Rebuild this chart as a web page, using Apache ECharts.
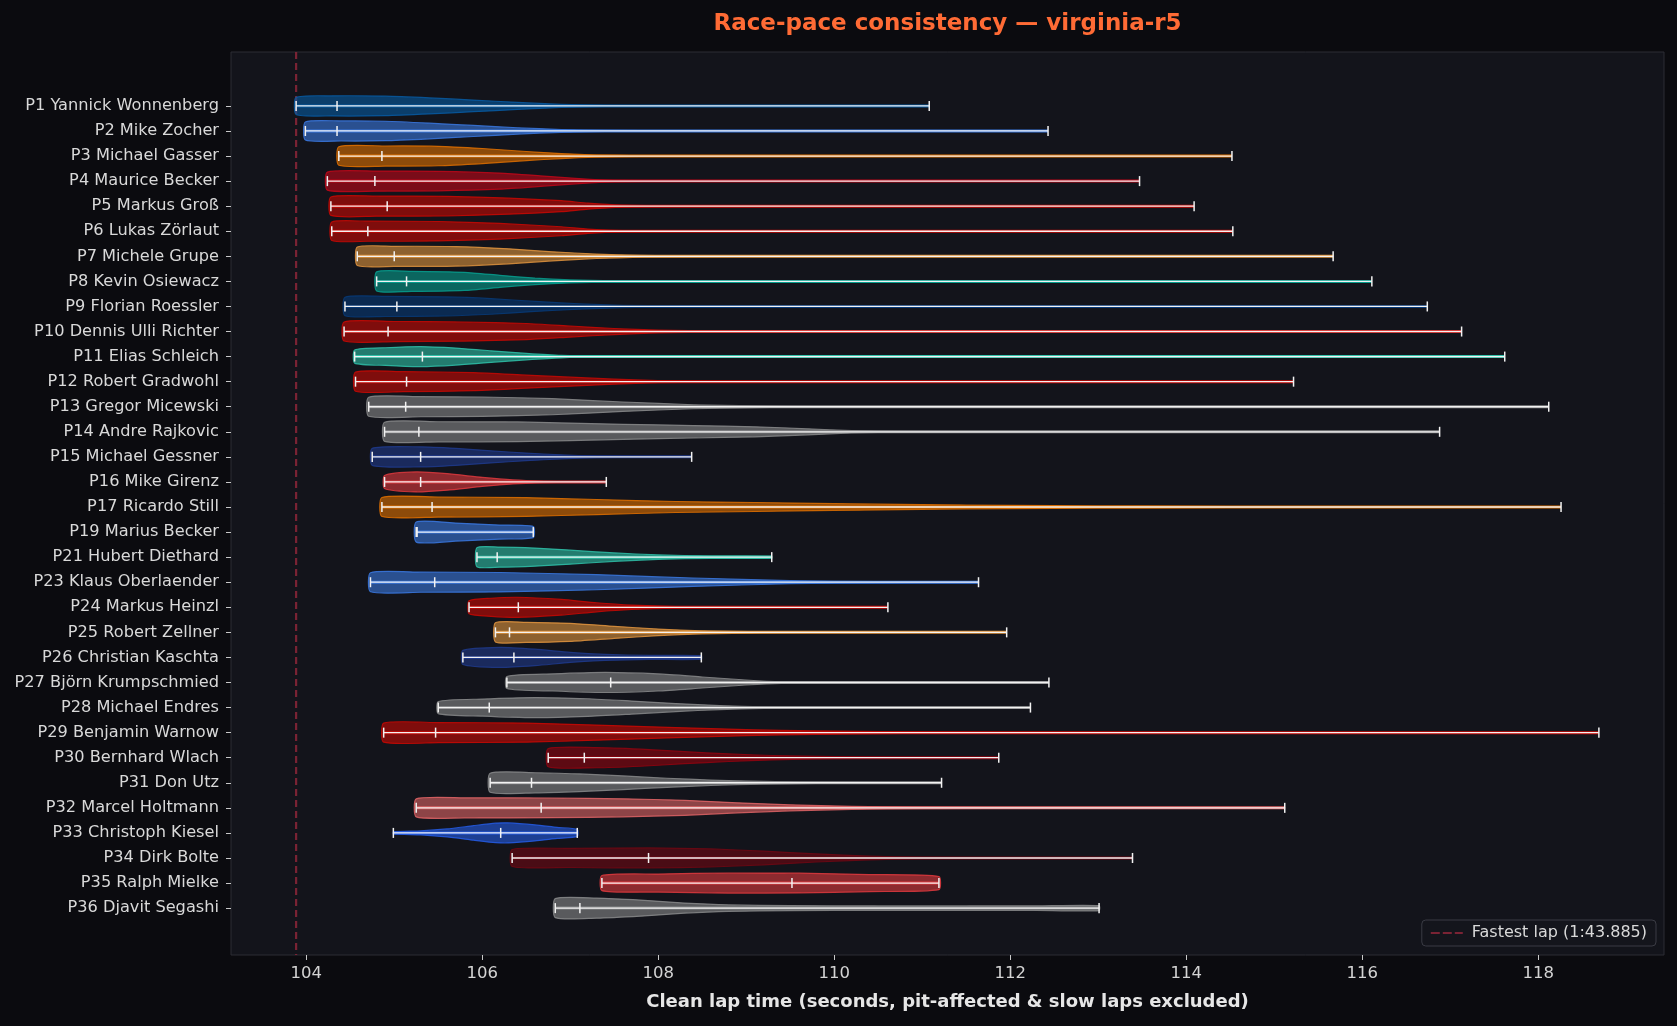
<!DOCTYPE html>
<html>
<head>
<meta charset="utf-8">
<script src="https://cdn.jsdelivr.net/npm/echarts@6/dist/echarts.min.js"></script>
<style>
  html, body { margin: 0; padding: 0; background: #0b0b0f; }
  #chart { width: 1677px; height: 1026px; }
</style>
</head>
<body>
<div id="chart"></div>
<script>
// values
const drivers = [
  "P1 Yannick Wonnenberg", "P2 Mike Zocher", "P3 Michael Gasser", "P4 Maurice Becker",
  "P5 Markus Groß", "P6 Lukas Zörlaut", "P7 Michele Grupe", "P8 Kevin Osiewacz",
  "P9 Florian Roessler", "P10 Dennis Ulli Richter", "P11 Elias Schleich", "P12 Robert Gradwohl",
  "P13 Gregor Micewski", "P14 Andre Rajkovic", "P15 Michael Gessner", "P16 Mike Girenz",
  "P17 Ricardo Still", "P19 Marius Becker", "P21 Hubert Diethard", "P23 Klaus Oberlaender",
  "P24 Markus Heinzl", "P25 Robert Zellner", "P26 Christian Kaschta", "P27 Björn Krumpschmied",
  "P28 Michael Endres", "P29 Benjamin Warnow", "P30 Bernhard Wlach", "P31 Don Utz",
  "P32 Marcel Holtmann", "P33 Christoph Kiesel", "P34 Dirk Bolte", "P35 Ralph Mielke",
  "P36 Djavit Segashi"
];

const mins = [
  103.885, 103.99, 104.37, 104.24, 104.28, 104.29, 104.58, 104.80, 104.44, 104.43, 104.55,
  104.56, 104.71, 104.89, 104.75, 104.89, 104.86, 105.25, 105.94, 104.73, 105.85, 106.15,
  105.78, 106.28, 105.50, 104.88, 106.75, 106.09, 105.25, 104.99, 106.34, 107.36, 106.83
];

const medians = [
  104.35, 104.35, 104.86, 104.78, 104.92, 104.70, 105.00, 105.14, 105.03, 104.93, 105.32,
  105.14, 105.13, 105.28, 105.30, 105.30, 105.43, 105.26, 106.17, 105.46, 106.41, 106.31,
  106.36, 107.46, 106.08, 105.47, 107.16, 106.56, 106.67, 106.21, 107.89, 109.52, 107.11
];

const maxes = [
  111.08, 112.43, 114.52, 113.47, 114.09, 114.53, 115.67, 116.11, 116.74, 117.13, 117.62,
  115.22, 118.12, 116.88, 108.38, 107.41, 118.26, 106.58, 109.29, 111.64, 110.61, 111.96,
  108.49, 112.44, 112.23, 118.69, 111.87, 111.22, 115.12, 107.08, 113.39, 111.19, 113.01
];

const colors = [
  "#075aa2", "#3a78e0", "#e07000", "#bf0719", "#c80804", "#c80804", "#e0943e", "#079d8e",
  "#073977", "#c80804", "#2fc1a9", "#c80804", "#88898b", "#88898b", "#1f398b", "#e0393e",
  "#e07000", "#3a78e0", "#2fc1a9", "#3a78e0", "#c80804", "#e0943e", "#1f398b", "#88898b",
  "#88898b", "#c80804", "#90030f", "#88898b", "#e06466", "#255ce5", "#6f0713", "#e0393e",
  "#88898b"
];

// violin outline: [lap time, relative half-width]
const profiles = [
  [[103.885,0.85],[104.3,1.0],[104.9,0.97],[105.4,0.8],[105.9,0.58],[106.4,0.35],[106.9,0.15],[107.4,0.05],[108.2,0.01],[111.08,0]],
  [[103.99,0.9],[104.4,1.0],[104.9,0.97],[105.4,0.78],[105.9,0.55],[106.4,0.32],[106.9,0.14],[107.4,0.05],[108.2,0.01],[112.43,0]],
  [[104.37,0.92],[104.9,1.0],[105.5,0.97],[106.0,0.75],[106.5,0.45],[106.9,0.25],[107.3,0.1],[107.8,0.03],[109,0.01],[114.52,0]],
  [[104.24,0.9],[104.8,1.0],[105.5,0.97],[106.2,0.8],[106.7,0.5],[107.1,0.25],[107.5,0.08],[108.2,0.02],[113.47,0]],
  [[104.28,0.92],[104.8,1.0],[105.6,0.98],[106.3,0.8],[106.9,0.55],[107.2,0.3],[107.6,0.1],[108.2,0.03],[114.09,0]],
  [[104.29,0.92],[104.7,1.0],[105.5,0.97],[106.2,0.78],[106.9,0.45],[107.2,0.22],[107.6,0.07],[108.3,0.02],[114.53,0]],
  [[104.58,0.92],[105.0,1.0],[105.7,0.97],[106.3,0.75],[106.8,0.45],[107.3,0.22],[107.8,0.09],[108.5,0.03],[109.5,0.01],[115.67,0]],
  [[104.8,0.95],[105.2,1.0],[105.8,0.9],[106.2,0.6],[106.6,0.32],[107.0,0.15],[107.5,0.06],[108.2,0.02],[110,0.005],[116.11,0]],
  [[104.44,0.92],[104.9,1.0],[105.6,0.95],[106.1,0.78],[106.6,0.5],[107.1,0.27],[107.6,0.12],[108.2,0.04],[109.5,0.01],[116.74,0]],
  [[104.43,0.95],[105.0,1.0],[105.8,0.95],[106.5,0.8],[107.0,0.55],[107.5,0.3],[108.0,0.13],[108.7,0.05],[109.5,0.015],[117.13,0]],
  [[104.55,0.65],[104.9,0.88],[105.3,1.0],[105.7,0.85],[106.1,0.58],[106.5,0.32],[106.9,0.12],[107.4,0.04],[108.2,0.01],[117.62,0]],
  [[104.56,0.95],[105.1,1.0],[105.9,0.9],[106.5,0.65],[107.0,0.45],[107.5,0.25],[108.0,0.1],[108.6,0.04],[109.5,0.01],[115.22,0]],
  [[104.71,0.95],[105.3,1.0],[106.0,0.97],[106.8,0.8],[107.6,0.47],[108.4,0.2],[109.1,0.08],[109.8,0.02],[111,0.005],[118.12,0]],
  [[104.89,0.95],[105.5,1.0],[106.4,0.98],[107.6,0.75],[108.4,0.62],[109.1,0.5],[109.7,0.3],[110.2,0.12],[110.8,0.04],[112,0.01],[116.88,0]],
  [[104.75,0.85],[105.3,1.0],[105.7,0.85],[106.1,0.6],[106.5,0.38],[106.9,0.2],[107.3,0.08],[107.8,0.02],[108.38,0.005]],
  [[104.89,0.65],[105.25,1.0],[105.6,0.82],[106.0,0.45],[106.35,0.2],[106.7,0.07],[107.0,0.02],[107.41,0.005]],
  [[104.86,0.95],[105.5,1.0],[106.5,0.93],[107.3,0.75],[108.2,0.55],[109.1,0.45],[110,0.33],[111,0.24],[112,0.16],[113,0.1],[114,0.06],[115,0.03],[116.3,0.01],[118.26,0]],
  [[105.25,1.0],[105.7,0.9],[106.2,0.7],[106.58,0.55]],
  [[105.94,0.95],[106.2,1.0],[106.6,0.9],[107.0,0.7],[107.5,0.42],[108.0,0.22],[108.6,0.12],[109.29,0.1]],
  [[104.73,0.95],[105.3,1.0],[106.2,0.97],[107.3,0.75],[108.4,0.42],[109.5,0.15],[110.5,0.06],[111.64,0.04]],
  [[105.85,0.65],[106.1,0.9],[106.4,1.0],[106.9,0.78],[107.3,0.45],[107.7,0.22],[108.2,0.08],[109,0.02],[110.61,0]],
  [[106.15,0.95],[106.5,1.0],[107.0,0.9],[107.5,0.6],[108.0,0.33],[108.5,0.15],[109.2,0.06],[110.2,0.02],[111.96,0]],
  [[105.78,0.7],[106.2,1.0],[106.6,0.82],[107.0,0.5],[107.4,0.3],[107.9,0.2],[108.49,0.18]],
  [[106.28,0.6],[106.8,0.85],[107.4,1.0],[108.0,0.85],[108.5,0.55],[109.0,0.25],[109.4,0.08],[110,0.02],[112.44,0]],
  [[105.5,0.6],[106.0,0.85],[106.6,1.0],[107.2,0.88],[107.7,0.65],[108.2,0.4],[108.7,0.2],[109.2,0.08],[110,0.02],[112.23,0]],
  [[104.88,0.95],[105.5,1.0],[106.5,0.95],[107.3,0.75],[108.2,0.5],[109.0,0.3],[109.8,0.17],[110.8,0.08],[112,0.03],[114,0.01],[118.69,0]],
  [[106.75,0.9],[107.3,1.0],[107.8,0.85],[108.3,0.6],[108.8,0.38],[109.3,0.22],[110,0.1],[110.8,0.04],[111.87,0.01]],
  [[106.09,0.95],[106.6,1.0],[107.1,0.88],[107.6,0.68],[108.1,0.45],[108.6,0.27],[109.2,0.13],[110,0.04],[111.22,0.01]],
  [[105.25,0.9],[105.8,1.0],[106.8,0.98],[107.6,0.9],[108.3,0.75],[108.9,0.5],[109.5,0.3],[110.2,0.15],[111,0.07],[112.5,0.04],[115.12,0.03]],
  [[104.99,0.1],[105.3,0.2],[105.6,0.4],[105.9,0.72],[106.15,0.97],[106.3,1.0],[106.6,0.8],[106.85,0.55],[107.08,0.35]],
  [[106.34,0.85],[107.0,0.95],[107.9,1.0],[108.6,0.9],[109.2,0.68],[109.8,0.4],[110.4,0.18],[111,0.07],[112,0.02],[113.39,0.01]],
  [[107.36,0.75],[108.0,0.9],[108.8,1.0],[109.6,0.98],[110.4,0.85],[111.19,0.65]],
  [[106.83,0.95],[107.3,1.0],[107.8,0.8],[108.3,0.5],[108.8,0.32],[109.5,0.25],[110.5,0.22],[111.5,0.22],[112.3,0.23],[113.01,0.25]]
];

const xTicks = [104, 106, 108, 110, 112, 114, 116, 118];
const fastestLap = 103.885;
const fastestLabel = "Fastest lap (1:43.885)";

const FONT = "DejaVu Sans";
const HALF = 0.4;  // max violin half-width in row units
const CAP = 0.2;   // half length of the min/max/median ticks
const Y_MIN = -2.15, Y_MAX = 33.87;
const LAP_COLOR = "rgba(128,36,54,0.95)";
const rowIdx = drivers.map(function (d, i) { return i; });

function rgba(hex, a) {
  const n = parseInt(hex.slice(1), 16);
  return "rgba(" + (n >> 16) + "," + ((n >> 8) & 255) + "," + (n & 255) + "," + a + ")";
}

function renderViolin(params, api) {
  const i = api.value(0);
  const top = [], bottom = [];
  profiles[i].forEach(function (p) {
    top.push(api.coord([p[0], i - p[1] * HALF]));
    bottom.push(api.coord([p[0], i + p[1] * HALF]));
  });
  const pts = top.concat(bottom.reverse());
  const c = colors[i];
  const a = api.coord([mins[i], i]);
  const b = api.coord([maxes[i], i]);
  const m = api.coord([medians[i], i]);
  const h = api.size([0, CAP])[1];
  const tick = function (p) {
    return { type: "line", shape: { x1: p[0], y1: p[1] - h, x2: p[0], y2: p[1] + h },
             style: { stroke: "#f2f2f2", lineWidth: 1.5 } };
  };
  return {
    type: "group",
    children: [
      { type: "polygon", shape: { points: pts, smooth: 0.2 },
        style: { fill: rgba(c, 0.6), stroke: rgba(c, 0.85), lineWidth: 1.2 } },
      { type: "line", shape: { x1: a[0], y1: a[1], x2: b[0], y2: b[1] },
        style: { stroke: c, lineWidth: 3 } },
      { type: "line", shape: { x1: a[0], y1: a[1], x2: b[0], y2: b[1] },
        style: { stroke: "#f2f2f2", lineWidth: 1.3 } },
      tick(a), tick(b), tick(m)
    ]
  };
}

const chart = echarts.init(document.getElementById("chart"));

chart.setOption({
  backgroundColor: "#0b0b0f",
  animation: false,
  textStyle: { fontFamily: FONT },
  graphic: [{
    type: "text", x: 947.5, y: 24.5,
    style: { text: "Race-pace consistency — virginia-r5", fill: "#ff6b35",
             font: "bold 23px 'DejaVu Sans'", textAlign: "center", textVerticalAlign: "middle" }
  }],
  grid: { left: 231, right: 13, top: 52, bottom: 71,
          show: true, backgroundColor: "#13141b", borderColor: "#2c2d35", borderWidth: 1 },
  legend: {
    data: [{ name: fastestLabel, icon: "path://M0,0h9v2h-9z M12,0h9v2h-9z M24,0h8v2h-8z" }],
    right: 21, top: 920,
    backgroundColor: "#14151c", borderColor: "#3a3b44", borderWidth: 1, borderRadius: 4,
    padding: [5, 9], itemWidth: 32, itemHeight: 2, itemGap: 8,
    itemStyle: { color: LAP_COLOR },
    textStyle: { color: "#d9d9d9", fontSize: 16, fontFamily: FONT, padding: [0, 0, 0, 4] }
  },
  xAxis: {
    type: "value", min: 103.145, max: 119.43,
    name: "Clean lap time (seconds, pit-affected & slow laps excluded)",
    nameLocation: "middle", nameGap: 38,
    nameTextStyle: { color: "#e6e6e6", fontSize: 18, fontWeight: "bold", fontFamily: FONT },
    axisLine: { show: false, onZero: false },
    splitLine: { show: false },
    axisTick: { show: true, customValues: xTicks, length: 5, lineStyle: { color: "#c8c8c8" } },
    axisLabel: { customValues: xTicks, color: "#d4d4d4", fontSize: 16.5, margin: 10, fontFamily: FONT }
  },
  yAxis: {
    type: "value", inverse: true, min: Y_MIN, max: Y_MAX,
    axisLine: { show: false, onZero: false },
    splitLine: { show: false },
    axisTick: { show: true, customValues: rowIdx, length: 5, lineStyle: { color: "#c8c8c8" } },
    axisLabel: { customValues: rowIdx,
                 formatter: function (v) { return drivers[v] || ""; },
                 color: "#d9d9d9", fontSize: 16.2, margin: 12, fontFamily: FONT }
  },
  series: [
    {
      name: fastestLabel, type: "line", symbol: "none", z: 1,
      data: [[fastestLap, Y_MIN], [fastestLap, Y_MAX]],
      itemStyle: { color: LAP_COLOR },
      lineStyle: { color: LAP_COLOR, width: 2.2, type: [7, 4] }
    },
    {
      type: "custom", z: 3,
      renderItem: renderViolin,
      data: rowIdx.map(function (i) { return [i]; }),
      encode: { x: -1, y: 0 }
    }
  ]
});
</script>
</body>
</html>
